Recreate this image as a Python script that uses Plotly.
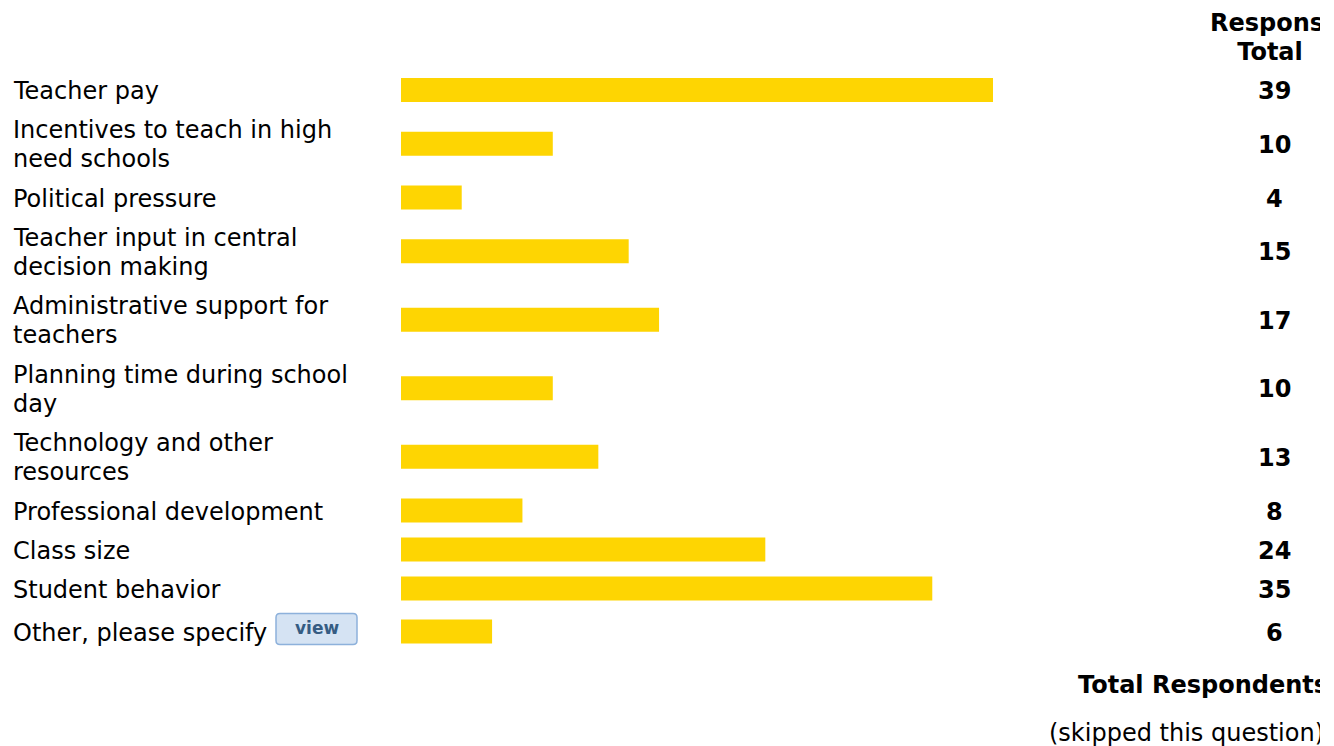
import plotly.graph_objects as go

# ---- data ----
labels = [
    "Teacher pay",
    "Incentives to teach in high<br>need schools",
    "Political pressure",
    "Teacher input in central<br>decision making",
    "Administrative support for<br>teachers",
    "Planning time during school<br>day",
    "Technology and other<br>resources",
    "Professional development",
    "Class size",
    "Student behavior",
    "Other, please specify",
]
totals = [39, 10, 4, 15, 17, 10, 13, 8, 24, 35, 6]
header_lines = ["Response", "Total"]
footer_lines = ["Total Respondents", "(skipped this question)"]

# ---- layout constants (screen pixels) ----
PM = 8                      # browser body margin
W, H = 1334 - PM, 746 - PM  # figure size
CLIP_X = 1320
TOP = 70.5
ONE_LINE_H = 39
EXTRA_LINE_H = 29.5
LINE_GAP = 29
BUTTON_EXTRA = 8
BAR_X0, BAR_X1 = 401, 993
BAR_H = 24
FONT = "DejaVu Sans, Verdana, sans-serif"
FS = 24
BAR_COLOR = "#FED502"
TXT_DY = 1      # annotation vertical nudge
SC_DY = 3       # scatter-text vertical nudge

# row centres from label line counts
centers = []
y = TOP
for i, lab in enumerate(labels):
    n = lab.count("<br>") + 1
    h = ONE_LINE_H + EXTRA_LINE_H * (n - 1)
    if i == len(labels) - 1:
        h += BUTTON_EXTRA
    centers.append(y + h / 2)
    y += h

fig = go.Figure()

# bars
fig.add_trace(go.Bar(
    x=totals, y=centers, orientation="h", width=BAR_H,
    marker=dict(color=BAR_COLOR, line=dict(width=0)),
    xaxis="x", yaxis="y", hoverinfo="skip", showlegend=False,
))


def clipped_text(x, y, txt, pos):
    fig.add_trace(go.Scatter(
        x=[x], y=[y + SC_DY], mode="text", text=[txt], textposition=pos,
        textfont=dict(family=FONT, size=FS, color="black"),
        xaxis="x2", yaxis="y", cliponaxis=True, hoverinfo="skip", showlegend=False,
    ))


clipped_text(1210, 22, f"<b>{header_lines[0]}</b>", "middle right")
clipped_text(1270, 51, f"<b>{header_lines[1]}</b>", "middle center")
clipped_text(1078, 684, f"<b>{footer_lines[0]}</b>", "middle right")
clipped_text(1049, 732, footer_lines[1], "middle right")

# labels and totals
for lab, c, t in zip(labels, centers, totals):
    lines = lab.split("<br>")
    n = len(lines)
    for k, ln in enumerate(lines):
        fig.add_annotation(
            x=11, y=c + TXT_DY + (k - (n - 1) / 2) * LINE_GAP, xref="x2", yref="y",
            text=ln, showarrow=False, xanchor="left", yanchor="middle", align="left",
            font=dict(family=FONT, size=FS, color="black"),
        )
    fig.add_annotation(
        x=1274, y=c + TXT_DY, xref="x2", yref="y", text=f"<b>{t}</b>", showarrow=False,
        xanchor="center", yanchor="middle",
        font=dict(family=FONT, size=FS, color="black"),
    )

# "view" button next to the last label
bc = centers[-1]
bx0, bx1, by0, by1, r = 276, 357, bc - 18, bc + 13, 4
path = (f"M{bx0+r},{by0} L{bx1-r},{by0} Q{bx1},{by0} {bx1},{by0+r} "
        f"L{bx1},{by1-r} Q{bx1},{by1} {bx1-r},{by1} L{bx0+r},{by1} "
        f"Q{bx0},{by1} {bx0},{by1-r} L{bx0},{by0+r} Q{bx0},{by0} {bx0+r},{by0} Z")
fig.add_shape(type="path", path=path, xref="x2", yref="y",
              fillcolor="#D5E3F3", line=dict(color="#8DB1DB", width=1.5), layer="below")
fig.add_annotation(
    x=(bx0 + bx1) / 2, y=(by0 + by1) / 2 - 1, xref="x2", yref="y", text="<b>view</b>",
    showarrow=False, xanchor="center", yanchor="middle",
    font=dict(family=FONT, size=17, color="#355C83"),
)

fig.update_layout(
    width=W, height=H, margin=dict(l=0, r=0, t=0, b=0),
    paper_bgcolor="white", plot_bgcolor="rgba(0,0,0,0)",
    xaxis=dict(domain=[(BAR_X0 - PM) / W, (BAR_X1 - PM) / W], range=[0, max(totals)],
               anchor="y", visible=False, fixedrange=True),
    xaxis2=dict(domain=[0, (CLIP_X - PM) / W], range=[PM, CLIP_X], anchor="y",
                visible=False, fixedrange=True),
    yaxis=dict(domain=[0, 1], range=[PM + H, PM], visible=False, fixedrange=True),
    showlegend=False,
)

fig.write_html("out.html", config={"displayModeBar": False})
